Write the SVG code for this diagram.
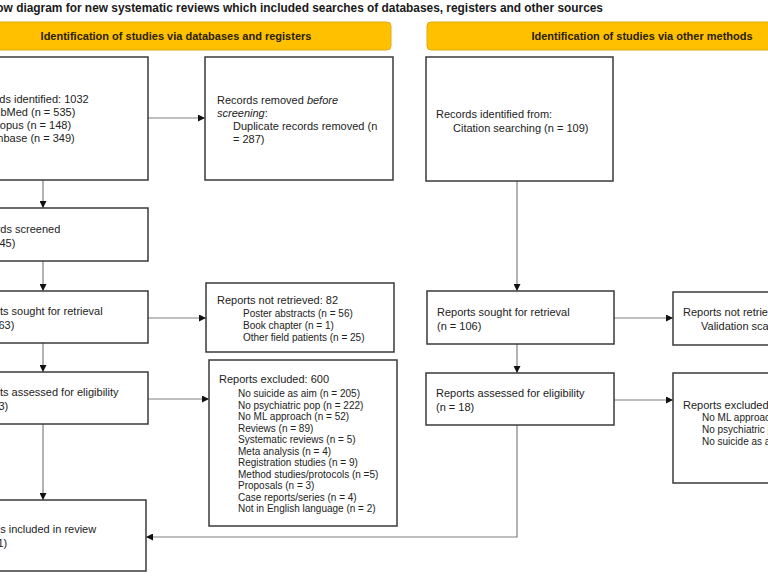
<svg xmlns="http://www.w3.org/2000/svg" width="768" height="576" viewBox="0 0 768 576">
<defs>
<marker id="ah" viewBox="0 0 8 8" refX="8" refY="4" markerWidth="7" markerHeight="7" markerUnits="userSpaceOnUse" orient="auto">
<path d="M0,0 L8,4 L0,8 Z" fill="#111"/>
</marker>
<style>
.box{fill:#fff;stroke:#3a3a3a;stroke-width:1.5}
.hdr{fill:#FFC000;stroke:#E2AC12;stroke-width:1}
.ht{font-family:"Liberation Sans",Arial,sans-serif;font-weight:bold;font-size:11px;fill:#2a2200;text-anchor:middle}
.t{font-family:"Liberation Sans",Arial,sans-serif;font-size:11px;fill:#222}
.s{font-family:"Liberation Sans",Arial,sans-serif;font-size:10px;fill:#222}
.title{font-family:"Liberation Sans",Arial,sans-serif;font-weight:bold;font-size:11.9px;fill:#1a1a1a}
.c{fill:none;stroke:#808080;stroke-width:1.2;marker-end:url(#ah)}
</style>
</defs>
<rect width="768" height="576" fill="#fff"/>
<text class="title" x="603" y="12" text-anchor="end">PRISMA 2020 flow diagram for new systematic reviews which included searches of databases, registers and other sources</text>

<g id="header-databases">
<rect class="hdr" x="-20" y="22" width="411" height="28" rx="4"/>
<text class="ht" x="176" y="40">Identification of studies via databases and registers</text>
</g>
<g id="header-other">
<rect class="hdr" x="427" y="22" width="380" height="28" rx="4"/>
<text class="ht" x="642" y="40">Identification of studies via other methods</text>
</g>

<g id="connectors">
<line class="c" x1="43" y1="180" x2="43" y2="208"/>
<line class="c" x1="43" y1="261" x2="43" y2="291"/>
<line class="c" x1="43" y1="343" x2="43" y2="372"/>
<line class="c" x1="43" y1="424" x2="43" y2="500"/>
<line class="c" x1="148" y1="118" x2="205" y2="118"/>
<line class="c" x1="148" y1="318" x2="206" y2="318"/>
<line class="c" x1="148" y1="399" x2="209" y2="399"/>
<line class="c" x1="517" y1="181" x2="517" y2="291"/>
<line class="c" x1="517" y1="344" x2="517" y2="373"/>
<line class="c" x1="614" y1="318" x2="673" y2="318"/>
<line class="c" x1="614" y1="400" x2="673" y2="400"/>
<path class="c" d="M517,425 L517,537 L146,537"/>
</g>

<g id="records-identified">
<rect class="box" x="-10" y="57" width="158" height="123"/>
<text class="t" x="-30" y="103">Records identified: 1032</text>
<text class="t" x="-13" y="116">PubMed (n = 535)</text>
<text class="t" x="-13" y="129">Scopus (n = 148)</text>
<text class="t" x="-13" y="142">Embase (n = 349)</text>
</g>
<g id="records-removed">
<rect class="box" x="205" y="57" width="188" height="123"/>
<text class="t" x="217" y="104">Records removed <tspan font-style="italic">before</tspan></text>
<text class="t" x="217" y="117"><tspan font-style="italic">screening</tspan>:</text>
<text class="t" x="233" y="130">Duplicate records removed (n</text>
<text class="t" x="233" y="143">= 287)</text>
</g>
<g id="citation-identified">
<rect class="box" x="426" y="57" width="187" height="124"/>
<text class="t" x="436" y="118">Records identified from:</text>
<text class="t" x="453" y="132">Citation searching (n = 109)</text>
</g>
<g id="records-screened">
<rect class="box" x="-10" y="208" width="158" height="53"/>
<text class="t" x="-29" y="233">Records screened</text>
<text class="t" x="-29" y="247">(n = 745)</text>
</g>
<g id="sought-db">
<rect class="box" x="-10" y="291" width="158" height="52"/>
<text class="t" x="-30" y="315">Reports sought for retrieval</text>
<text class="t" x="-30" y="329">(n = 663)</text>
</g>
<g id="not-retrieved-db">
<rect class="box" x="206" y="283" width="188" height="69"/>
<text class="t" x="217" y="304">Reports not retrieved: 82</text>
<text class="s" x="243" y="317">Poster abstracts (n = 56)</text>
<text class="s" x="243" y="329">Book chapter (n = 1)</text>
<text class="s" x="243" y="341">Other field patients (n = 25)</text>
</g>
<g id="sought-other">
<rect class="box" x="427" y="291" width="187" height="53"/>
<text class="t" x="437" y="316">Reports sought for retrieval</text>
<text class="t" x="437" y="330">(n = 106)</text>
</g>
<g id="not-retrieved-other">
<rect class="box" x="673" y="292" width="130" height="53"/>
<text class="t" x="683" y="316">Reports not retrieved</text>
<text class="t" x="701" y="330">Validation scales</text>
</g>
<g id="assessed-db">
<rect class="box" x="-10" y="372" width="158" height="52"/>
<text class="t" x="-30" y="396">Reports assessed for eligibility</text>
<text class="t" x="-30" y="410">(n = 63)</text>
</g>
<g id="excluded-db">
<rect class="box" x="209" y="360" width="188" height="166"/>
<text class="t" x="219" y="383">Reports excluded: 600</text>
<text class="s" x="238" y="397">No suicide as aim (n = 205)</text>
<text class="s" x="238" y="408.5">No psychiatric pop (n = 222)</text>
<text class="s" x="238" y="420">No ML approach (n = 52)</text>
<text class="s" x="238" y="431.5">Reviews (n = 89)</text>
<text class="s" x="238" y="443">Systematic reviews (n = 5)</text>
<text class="s" x="238" y="454.5">Meta analysis (n = 4)</text>
<text class="s" x="238" y="466">Registration studies (n = 9)</text>
<text class="s" x="238" y="477.5">Method studies/protocols (n =5)</text>
<text class="s" x="238" y="489">Proposals (n = 3)</text>
<text class="s" x="238" y="500.5">Case reports/series (n = 4)</text>
<text class="s" x="238" y="512">Not in English language (n = 2)</text>
</g>
<g id="assessed-other">
<rect class="box" x="426" y="373" width="188" height="52"/>
<text class="t" x="436" y="397">Reports assessed for eligibility</text>
<text class="t" x="436" y="411">(n = 18)</text>
</g>
<g id="excluded-other">
<rect class="box" x="673" y="373" width="130" height="110"/>
<text class="t" x="683" y="409">Reports excluded</text>
<text class="s" x="702" y="421">No ML approach</text>
<text class="s" x="702" y="433">No psychiatric pop</text>
<text class="s" x="702" y="445">No suicide as aim</text>
</g>
<g id="included">
<rect class="box" x="-10" y="500" width="156" height="71"/>
<text class="t" x="-31" y="533">Studies included in review</text>
<text class="t" x="-31" y="547">(n = 81)</text>
</g>
</svg>
